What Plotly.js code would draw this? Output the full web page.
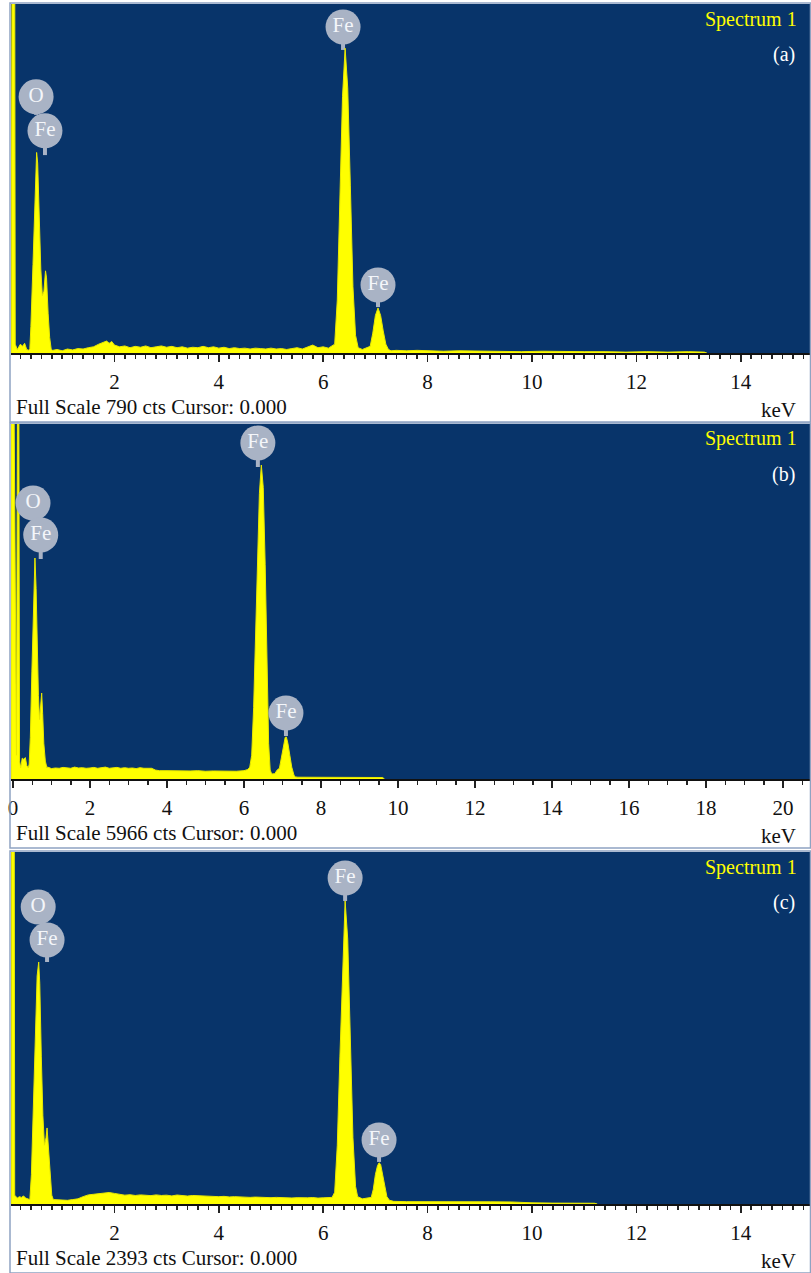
<!DOCTYPE html>
<html>
<head>
<meta charset="utf-8">
<script src="https://cdn.plot.ly/plotly-3.0.1.min.js"></script>
<style>html,body{margin:0;padding:0;background:#fff;}#chart{width:811px;height:1273px;}</style>
</head>
<body>
<div id="chart"></div>
<script>
// ---------- DATA ----------
// Panel (a): full scale 790 cts
const energyA = [0.02,0.04,0.09,0.10,0.14,0.20,0.24,0.28,0.32,0.36,
  0.38,0.40,0.44,0.48,0.51,0.53,0.56,0.59,0.62,0.65,0.68,0.70,0.73,0.76,0.79,
  0.82,0.9,1.0,1.1,1.2,1.3,1.4,1.5,1.6,1.7,1.8,1.85,1.9,1.95,2.0,2.1,2.2,2.3,2.4,2.5,2.6,2.7,2.8,2.9,3.0,3.1,3.2,3.3,3.4,3.5,3.6,3.7,3.8,3.9,4.0,4.1,4.2,4.3,4.4,4.5,4.6,4.7,4.8,4.9,5.0,5.1,5.2,5.3,5.4,5.5,5.6,5.7,5.8,5.9,6.0,6.1,6.15,
  6.22,6.27,6.32,6.37,6.42,6.47,6.52,6.57,6.62,6.67,6.75,6.85,
  6.9,6.95,7.0,7.05,7.1,7.15,7.2,7.25,7.3,
  7.4,7.6,7.8,8.0,8.3,8.6,9.0,9.4,9.8,10.2,10.6,11.0,11.4,11.8,12.2,12.6,13.0,13.3,13.35];
const countsA = [0,950,950,20,8,20,15,22,8,6,
  10,60,200,360,454,430,300,190,130,140,186,170,90,35,8,
  6,8,5,9,7,10,9,12,14,20,24,27,22,26,18,14,16,12,15,13,16,12,14,16,13,15,12,14,11,13,12,15,12,14,11,13,10,12,10,11,9,11,10,9,11,9,10,8,10,12,9,14,18,12,14,11,14,
  20,120,350,580,690,600,380,150,40,12,8,12,
  15,45,85,102,85,50,20,8,5,
  6,5,6,5,4,5,4,4,3,4,3,3,3,2,3,2,3,2,0];

// Panel (b): full scale 5966 cts
const energyB = [-0.05,-0.01,0.02,0.09,0.12,0.15,0.17,0.2,0.24,0.28,0.32,0.36,0.40,
  0.42,0.45,0.49,0.53,0.57,0.60,0.63,0.66,0.69,0.72,0.745,0.77,0.80,0.84,0.88,
  0.9,1.0,1.1,1.2,1.3,1.4,1.5,1.6,1.7,1.8,1.9,2.0,2.1,2.2,2.3,2.4,2.5,2.6,2.7,2.8,2.9,3.0,3.1,3.2,3.3,3.4,3.5,3.6,3.7,3.8,4.0,4.2,4.4,4.6,4.8,5.0,5.2,5.4,5.6,5.8,6.0,6.1,
  6.15,6.2,6.25,6.3,6.35,6.4,6.45,6.5,6.55,6.6,6.64,6.68,
  6.72,6.8,6.86,
  6.92,6.97,7.02,7.07,7.1,7.14,7.19,7.24,7.3,7.34,
  7.4,7.8,8.2,8.6,9.0,9.3,9.6,9.65];
const countsB = [7000,7000,7000,400,7000,7000,300,190,350,330,360,220,190,
  250,700,1800,3000,3714,3200,2200,1400,1000,1200,1445,1100,600,300,190,
  200,175,185,180,195,185,180,200,185,190,180,185,195,180,185,200,180,185,195,180,190,180,185,175,190,180,175,180,150,140,140,135,140,135,140,130,135,130,135,130,140,160,
  200,400,1200,2500,3800,4800,5277,4900,3600,1800,600,150,
  84,90,150,
  180,350,550,700,706,600,400,200,60,35,
  30,30,28,28,27,26,25,0];

// Panel (c): full scale 2393 cts
const energyC = [0.02,0.03,0.08,0.09,0.14,0.18,0.22,0.26,0.30,0.34,0.38,
  0.41,0.44,0.48,0.52,0.55,0.57,0.60,0.63,0.66,0.69,0.71,0.74,0.77,0.80,0.83,
  0.9,1.0,1.1,1.2,1.3,1.4,1.5,1.6,1.7,1.8,1.9,2.0,2.1,2.2,2.3,2.4,2.5,2.6,2.7,2.8,2.9,3.0,3.1,3.2,3.3,3.4,3.5,3.6,3.7,3.8,3.9,4.0,4.1,4.2,4.3,4.4,4.5,4.6,4.7,4.8,4.9,5.0,5.1,5.2,5.3,5.4,5.5,5.6,5.7,5.8,5.9,6.0,6.1,6.17,
  6.22,6.27,6.32,6.37,6.42,6.47,6.52,6.57,6.62,6.66,6.75,6.85,6.92,
  6.96,7.0,7.04,7.07,7.1,7.14,7.18,7.22,7.27,
  7.35,7.6,8.0,8.4,8.8,9.2,9.6,9.8,10.0,10.4,10.8,11.2,11.25];
const countsC = [0,3000,3000,60,40,50,45,55,40,35,30,
  200,600,1200,1550,1645,1500,1000,600,400,450,517,380,180,60,30,
  28,27,25,30,35,50,62,66,70,74,78,72,65,60,63,58,62,60,57,62,58,60,55,61,57,54,58,56,53,55,52,50,52,48,50,47,49,45,47,44,46,43,45,42,44,41,43,40,42,44,40,42,41,45,
  80,400,1000,1600,2060,1800,1100,450,120,50,35,40,45,
  100,200,260,280,270,200,110,50,25,
  18,16,17,15,16,15,14,10,8,6,6,5,0];

// Element labels (text, energy keV, label height cts, marker tip cts)
const labelText = ['O','Fe','Fe','Fe'];
const labelKeVA = [0.50,0.67,6.38,7.05];
const labelCtsA = [580,503,738,154];
const labelTipA = [539,448,686,104];
const labelKeVB = [0.52,0.72,6.36,7.09];
const labelCtsB = [4638,4101,5647,1109];
const labelTipB = [4353,3697,5243,723];
const labelKeVC = [0.54,0.71,6.42,7.07];
const labelCtsC = [2019,1795,2216,435];
const labelTipC = [1910,1645,2060,286];

const fullScales = [790,5966,2393];
const panelTags = ['(a)','(b)','(c)'];
const tickValsA = [2,4,6,8,10,12,14];
const tickTextA = ['2','4','6','8','10','12','14'];
const tickValsB = [0,2,4,6,8,10,12,14,16,18,20];
const tickTextB = ['0','2','4','6','8','10','12','14','16','18','20'];

// ---------- LAYOUT ----------
const W = 811, H = 1273;
const px = v => v / W;
const py = v => 1 - v / H;
const SERIF = 'Liberation Serif, Times New Roman, serif';
const BG = '#08346a';
const YEL = '#ffff00';
const LBL = '#a9b3c5';

// pixel geometry of panels: plot top, axis line, strip bottom
const panels = [
  {top:4, axis:353, bottom:422, full:790, xr:[(11-10)/52.2,(811-10)/52.2], tv:tickValsA, tt:tickTextA, minor:0.2},
  {top:424, axis:779, bottom:848, full:5966, xr:[(11-13)/38.5,(811-13)/38.5], tv:tickValsB, tt:tickTextB, minor:0.5},
  {top:852, axis:1204, bottom:1273, full:2393, xr:[(11-10)/52.2,(811-10)/52.2], tv:tickValsA, tt:tickTextA, minor:0.2}
];
const series = [[energyA,countsA],[energyB,countsB],[energyC,countsC]];
const labs = [[labelKeVA,labelCtsA,labelTipA],[labelKeVB,labelCtsB,labelTipB],[labelKeVC,labelCtsC,labelTipC]];

const data = [];
const layout = {
  width: W, height: H, autosize: false,
  margin: {l:0, r:0, t:0, b:0, pad:0},
  paper_bgcolor: '#ffffff', plot_bgcolor: BG,
  showlegend: false,
  shapes: [], annotations: []
};

panels.forEach((p, i) => {
  const n = i === 0 ? '' : String(i + 1);
  const xa = 'x' + n, ya = 'y' + n;
  data.push({
    type: 'scatter', mode: 'lines', x: series[i][0], y: series[i][1],
    xaxis: xa, yaxis: ya, fill: 'tozeroy', fillcolor: YEL,
    line: {color: '#e8e800', width: 1}, hoverinfo: 'skip'
  });
  // label stems
  labs[i][0].forEach((k, j) => {
    layout.shapes.push({type:'line', xref: xa, yref: ya, layer: 'below',
      x0: k, x1: k, y0: labs[i][1][j], y1: labs[i][2][j],
      line: {color: LBL, width: 4}});
  });
  data.push({
    type: 'scatter', mode: 'markers+text', x: labs[i][0], y: labs[i][1],
    text: labelText, textposition: 'middle center',
    textfont: {family: SERIF, size: 21, color: '#f4f6fa'},
    marker: {size: 35, color: LBL, line: {width: 0}},
    xaxis: xa, yaxis: ya, cliponaxis: false, hoverinfo: 'skip'
  });
  layout['xaxis' + n] = {
    domain: [px(11), 1], anchor: ya, range: p.xr,
    showgrid: false, zeroline: false, showline: true, linecolor: '#111', linewidth: 2,
    tickmode: 'array', tickvals: p.tv, ticktext: p.tt,
    ticks: 'outside', ticklen: 7, tickwidth: 1.5, tickcolor: '#222',
    ticklabelstandoff: 2,
    tickfont: {family: SERIF, size: 21, color: '#111'},
    minor: {dtick: p.minor, tick0: 0, ticks: 'outside', ticklen: 4, tickwidth: 1.5, tickcolor: '#222', showgrid: false},
    fixedrange: true
  };
  layout['yaxis' + n] = {
    domain: [py(p.axis), py(p.top)], anchor: xa, range: [0, p.full],
    showgrid: false, zeroline: false, showline: false, showticklabels: false, ticks: '',
    fixedrange: true
  };
  // panel frame
  layout.shapes.push({type:'rect', xref:'paper', yref:'paper',
    x0: px(10), x1: px(810.5), y0: py(p.bottom), y1: py(p.top - 1),
    line: {color: '#8fa3c2', width: 1.5}, fillcolor: 'rgba(0,0,0,0)'});
  // texts
  layout.annotations.push(
    {xref:'paper', yref:'paper', x: px(14), y: py(p.axis + 54), xanchor:'left', yanchor:'middle', showarrow:false,
     text: 'Full Scale ' + fullScales[i] + ' cts Cursor: 0.000', font:{family:SERIF, size:21, color:'#111'}},
    {xref:'paper', yref:'paper', x: px(798), y: py(p.axis + 57), xanchor:'right', yanchor:'middle', showarrow:false,
     text: 'keV', font:{family:SERIF, size:21, color:'#111'}},
    {xref:'paper', yref:'paper', x: px(799), y: py(p.top + 15), xanchor:'right', yanchor:'middle', showarrow:false,
     text: 'Spectrum 1', font:{family:SERIF, size:20, color:YEL}},
    {xref:'paper', yref:'paper', x: px(797), y: py(p.top + 51), xanchor:'right', yanchor:'middle', showarrow:false,
     text: panelTags[i], font:{family:SERIF, size:20, color:'#ffffff'}}
  );
});

Plotly.newPlot('chart', data, layout, {staticPlot: true, displayModeBar: false});
</script>
</body>
</html>
